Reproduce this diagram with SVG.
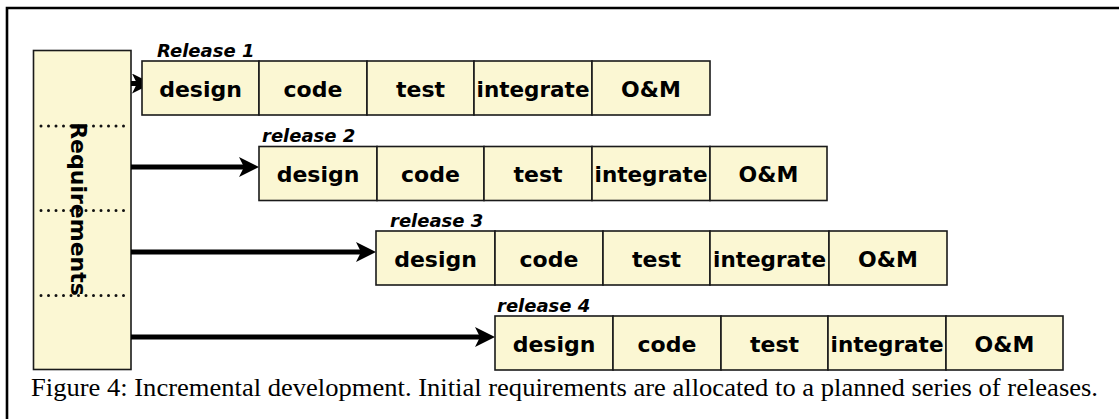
<svg xmlns="http://www.w3.org/2000/svg" width="1119" height="419" viewBox="0 0 1119 419">
  <defs>
    <marker id="arr" viewBox="0 0 20 20" markerWidth="20" markerHeight="20" refX="5" refY="10" orient="auto" markerUnits="userSpaceOnUse">
      <path d="M0,0 L20,10 L0,20 L5,10 z" fill="#000"/>
    </marker>
  </defs>
  <style>
    .box { fill: #FBF7D3; stroke: #1a1a1a; stroke-width: 1.6; }
    .lbl { font-family: "DejaVu Sans", "Liberation Sans", sans-serif; font-weight: bold; font-size: 22px; fill: #000; text-anchor: middle; }
    .rel { font-family: "DejaVu Sans", "Liberation Sans", sans-serif; font-weight: bold; font-style: italic; font-size: 18px; fill: #000; }
    .dots { stroke: #111; stroke-width: 3; stroke-linecap: round; stroke-dasharray: 0 7.5; fill: none; }
    .conn { stroke: #000; stroke-width: 5; fill: none; marker-end: url(#arr); }
    .cap { font-family: "Liberation Serif", "Times New Roman", serif; font-size: 25.5px; fill: #000; }
  </style>
  <rect x="0" y="0" width="1119" height="419" fill="#fff"/>
  <path d="M7,419 V8 H1119" fill="none" stroke="#000" stroke-width="2.6"/>

  <g id="requirements">
    <rect class="box" x="33.5" y="50.5" width="97.5" height="319"/>
    <line class="dots" x1="41" y1="126" x2="131" y2="126"/>
    <line class="dots" x1="41" y1="210.5" x2="131" y2="210.5"/>
    <line class="dots" x1="41" y1="295.5" x2="131" y2="295.5"/>
    <text class="lbl" font-size="20.5" transform="translate(71,209) rotate(90)">Requirements</text>
  </g>

  <g id="connectors">
    <line class="conn" x1="131" y1="83.5" x2="137" y2="83.5"/>
    <line class="conn" x1="131" y1="167" x2="244" y2="167"/>
    <line class="conn" x1="131" y1="252" x2="361" y2="252"/>
    <line class="conn" x1="131" y1="337" x2="480" y2="337"/>
  </g>

  <g id="release1">
    <text class="rel" x="157" y="57">Release 1</text>
    <g id="r1-design"><rect class="box" x="142" y="61" width="117" height="54"/><text class="lbl" x="200.5" y="96.5">design</text></g>
    <g id="r1-code"><rect class="box" x="259" y="61" width="108" height="54"/><text class="lbl" x="313" y="96.5">code</text></g>
    <g id="r1-test"><rect class="box" x="367" y="61" width="107" height="54"/><text class="lbl" x="420.5" y="96.5">test</text></g>
    <g id="r1-integrate"><rect class="box" x="474" y="61" width="118" height="54"/><text class="lbl" x="533" y="96.5" textLength="113" lengthAdjust="spacingAndGlyphs">integrate</text></g>
    <g id="r1-om"><rect class="box" x="592" y="61" width="118" height="54"/><text class="lbl" x="651" y="96.5">O&amp;M</text></g>
  </g>

  <g id="release2">
    <text class="rel" x="262" y="142">release 2</text>
    <g id="r2-design"><rect class="box" x="259" y="146.5" width="118" height="54"/><text class="lbl" x="318" y="182">design</text></g>
    <g id="r2-code"><rect class="box" x="377" y="146.5" width="107" height="54"/><text class="lbl" x="430.5" y="182">code</text></g>
    <g id="r2-test"><rect class="box" x="484" y="146.5" width="108" height="54"/><text class="lbl" x="538" y="182">test</text></g>
    <g id="r2-integrate"><rect class="box" x="592" y="146.5" width="118" height="54"/><text class="lbl" x="651" y="182" textLength="113" lengthAdjust="spacingAndGlyphs">integrate</text></g>
    <g id="r2-om"><rect class="box" x="710" y="146.5" width="117" height="54"/><text class="lbl" x="768.5" y="182">O&amp;M</text></g>
  </g>

  <g id="release3">
    <text class="rel" x="390" y="227">release 3</text>
    <g id="r3-design"><rect class="box" x="376" y="231" width="119" height="54"/><text class="lbl" x="435.5" y="266.5">design</text></g>
    <g id="r3-code"><rect class="box" x="495" y="231" width="108" height="54"/><text class="lbl" x="549" y="266.5">code</text></g>
    <g id="r3-test"><rect class="box" x="603" y="231" width="107" height="54"/><text class="lbl" x="656.5" y="266.5">test</text></g>
    <g id="r3-integrate"><rect class="box" x="710" y="231" width="119" height="54"/><text class="lbl" x="769.5" y="266.5" textLength="113" lengthAdjust="spacingAndGlyphs">integrate</text></g>
    <g id="r3-om"><rect class="box" x="829" y="231" width="118" height="54"/><text class="lbl" x="888" y="266.5">O&amp;M</text></g>
  </g>

  <g id="release4">
    <text class="rel" x="497" y="312">release 4</text>
    <g id="r4-design"><rect class="box" x="495" y="316" width="118" height="54"/><text class="lbl" x="554" y="351.5">design</text></g>
    <g id="r4-code"><rect class="box" x="613" y="316" width="108" height="54"/><text class="lbl" x="667" y="351.5">code</text></g>
    <g id="r4-test"><rect class="box" x="721" y="316" width="107" height="54"/><text class="lbl" x="774.5" y="351.5">test</text></g>
    <g id="r4-integrate"><rect class="box" x="828" y="316" width="118" height="54"/><text class="lbl" x="887" y="351.5" textLength="113" lengthAdjust="spacingAndGlyphs">integrate</text></g>
    <g id="r4-om"><rect class="box" x="946" y="316" width="117" height="54"/><text class="lbl" x="1004.5" y="351.5">O&amp;M</text></g>
  </g>

  <text class="cap" x="31" y="395.5" textLength="1067" lengthAdjust="spacingAndGlyphs">Figure 4: Incremental development. Initial requirements are allocated to a planned series of releases.</text>
</svg>
